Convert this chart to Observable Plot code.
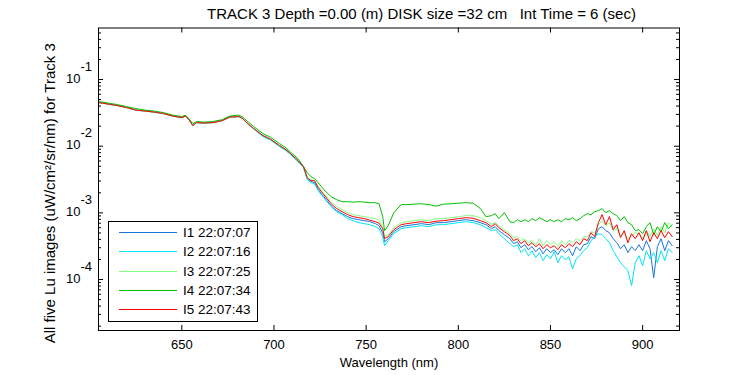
<!DOCTYPE html>
<html><head><meta charset="utf-8">
<script src="https://cdn.jsdelivr.net/npm/d3@7"></script>
<script src="https://cdn.jsdelivr.net/npm/@observablehq/plot@0.6"></script>
<style>
html,body{margin:0;padding:0;background:#fff;}
#wrap svg{display:block;}
</style></head><body><div id="wrap"></div>
<script>
// Wavelength (nm)
const wavelength = [
 605,610,615,620,625,630,635,640,645,650,
 652,654,656,658,662,667,672,676,681,683,
 686,689,694,698,703,706,709,713,716,718,
 720,722,724,727,731,734,737,740,743,746,
 749,752,755,757,759,760,762,765,769,772,
 776,780,784,788,792,796,800,804,808,812,
 815,818,820,822,825,828,830,832,834,836,
 838,840,842,844,846,848,850,852,854,856,
 858,860,862,864,866,868,870,872,874,876,
 878,880,882,884,886,888,890,892,894,896,
 898,900,902,904,906,908,910,912,914,916];

// Lu values in units of 1e-4 uW/cm²/sr/nm
const I1 = [
 451.6,428.7,407.0,379.8,348.3,336.5,325.1,308.7,283.1,268.8,
 283.1,246.6,203.9,226.1,222.3,226.1,242.3,273.5,278.3,259.7,
 214.7,183.8,144.3,127.8,102.1,90.5,77.4,60.8,49.4,33.8,
 29.4,28.4,22.3,17.5,12.8,10.8,9.73,8.77,8.18,7.90,
 7.64,7.38,6.89,6.43,5.04,3.69,4.10,5.22,6.21,6.43,
 6.65,6.89,6.65,7.13,7.13,7.38,7.64,7.90,7.64,7.13,
 6.65,5.79,6.21,5.41,4.71,4.10,3.45,3.69,3.00,3.33,
 2.80,3.11,2.61,3.00,2.44,2.90,2.53,2.80,2.36,2.90,
 2.53,2.90,2.28,3.11,2.71,3.33,3.45,4.40,4.10,5.79,
 6.21,5.41,5.04,4.10,3.57,2.90,3.33,2.53,3.11,2.71,
 3.33,2.71,3.83,2.90,1.06,3.11,4.10,2.71,3.83,3.22];
const I2 = [
 451.6,428.7,407.0,379.8,348.3,336.5,325.1,308.7,283.1,268.8,
 283.1,246.6,203.9,226.1,222.3,226.1,242.3,273.5,278.3,259.7,
 211.0,180.6,139.4,123.5,98.6,87.4,74.8,58.7,47.7,31.5,
 28.4,27.4,21.5,16.9,12.4,10.4,9.40,8.18,7.64,7.13,
 6.89,6.65,6.21,5.79,4.40,3.22,3.83,4.87,5.79,6.00,
 6.21,6.43,6.21,6.65,6.65,6.89,7.13,7.38,7.13,6.65,
 6.00,5.41,5.60,4.87,4.10,3.45,3.11,3.33,2.53,2.90,
 2.28,2.71,2.12,2.53,1.92,2.36,2.05,2.61,1.79,2.28,
 1.98,2.20,1.45,2.05,2.28,2.71,3.00,3.83,4.40,4.87,
 4.71,4.10,3.57,2.71,2.20,1.79,1.56,1.36,0.81,1.79,
 2.28,1.61,2.71,2.05,2.53,1.79,2.71,1.92,2.90,2.53];
const I3 = [
 451.6,428.7,407.0,379.8,348.3,336.5,325.1,308.7,283.1,268.8,
 283.1,246.6,203.9,226.1,222.3,226.1,242.3,273.5,278.3,259.7,
 214.7,183.8,144.3,127.8,102.1,90.5,77.4,60.8,49.4,33.8,
 31.5,30.4,24.7,19.4,14.7,12.4,11.2,10.07,9.40,9.08,
 8.77,8.47,8.18,7.64,6.21,4.40,4.71,6.00,7.13,7.38,
 7.64,7.90,7.64,8.18,8.18,8.47,8.77,9.08,9.08,8.47,
 7.64,6.65,7.13,6.43,5.60,4.87,4.25,4.40,3.83,4.10,
 3.57,3.83,3.33,4.10,3.22,3.83,3.33,3.69,3.11,3.83,
 3.33,3.83,3.57,4.10,3.83,4.40,4.40,5.22,5.04,6.65,
 7.64,6.43,7.13,5.41,5.79,4.55,5.04,4.10,4.55,5.04,
 4.87,4.10,5.41,4.40,5.79,4.55,6.21,5.04,7.13,6.21];
const I4 = [
 467.4,443.8,421.3,393.2,366.9,348.3,336.5,319.5,293.1,278.3,
 293.1,255.3,218.4,234.1,230.1,234.1,250.9,283.1,293.1,273.5,
 230.1,197.0,154.6,136.9,109.4,96.9,81.5,65.1,49.4,40.2,
 35.0,32.6,28.4,22.3,17.5,15.8,14.7,14.7,14.5,14.7,
 14.5,14.2,14.2,13.7,8.77,5.41,6.43,10.07,13.3,13.3,
 13.5,13.7,13.3,12.6,13.5,13.7,14.0,14.2,14.0,11.6,
 8.77,9.08,9.73,8.18,10.07,7.38,7.13,7.90,7.38,7.90,
 7.38,8.18,7.64,8.47,7.90,7.38,7.90,7.38,7.90,7.38,
 8.18,7.90,8.47,7.64,8.18,9.08,9.73,9.40,10.4,10.8,
 11.6,10.07,10.8,9.73,9.08,7.64,8.77,7.13,6.65,5.41,
 5.60,4.87,6.21,7.13,4.71,6.21,5.22,7.13,5.79,6.65];
const I5 = [
 451.6,428.7,407.0,379.8,348.3,336.5,325.1,308.7,283.1,268.8,
 283.1,246.6,203.9,226.1,222.3,226.1,242.3,273.5,278.3,259.7,
 214.7,183.8,144.3,127.8,102.1,90.5,77.4,60.8,49.4,33.8,
 30.4,30.4,23.9,18.8,13.7,11.6,10.4,9.40,8.77,8.47,
 8.18,7.77,7.38,7.00,5.79,4.10,4.40,5.60,6.65,6.89,
 7.13,7.38,7.13,7.51,7.64,7.90,8.18,8.47,8.32,7.64,
 7.13,6.21,6.89,6.00,5.22,4.55,3.83,4.10,3.45,3.83,
 3.22,3.57,3.11,3.45,2.90,3.33,3.00,3.22,2.80,3.33,
 3.00,3.45,3.11,3.69,3.33,4.10,3.83,5.04,4.40,7.13,
 9.40,6.65,8.77,5.60,6.65,4.25,5.41,3.57,4.87,4.10,
 5.04,3.83,5.41,3.69,5.04,4.10,5.41,4.25,5.22,4.40];

const seriesNames = ["I1 22:07:07","I2 22:07:16","I3 22:07:25","I4 22:07:34","I5 22:07:43"];
const seriesColors = ["#1a75e0","#00e5f2","#80ff80","#00c000","#ff0000"];
const xTicks = [650,700,750,800,850,900];
const yMajor = [1e-4,1e-3,1e-2,1e-1];
const yExponents = ["-4","-3","-2","-1"];
const yDecades = [1e-5,1e-4,1e-3,1e-2,1e-1];
const titleText = "TRACK 3 Depth =0.00 (m) DISK size =32 cm\u00a0\u00a0\u00a0Int Time = 6 (sec)";
const xLabel = "Wavelength (nm)";
const yLabel = "All five Lu images (uW/cm\u00b2/sr/nm) for Track 3";

const UNIT = 1e-4;
const xDomain = [604.8, 920];
const yDomain = [1.72e-5, 0.593];
const mL = 98, mR = 71, mT = 27.5, mB = 45, W = 750, H = 375;
const plotW = W - mL - mR, plotH = H - mT - mB;

const series = [I1,I2,I3,I4,I5].map((arr,k)=>({
  name: seriesNames[k], color: seriesColors[k],
  rows: arr.map((v,i)=>({wl: wavelength[i], lu: v*UNIT}))
}));

const yMinor = yDecades.flatMap(d => [2,3,4,5,6,7,8,9].map(m => m*d))
  .filter(v => v > yDomain[0] && v < yDomain[1]);

const font = "Liberation Sans, Arial, sans-serif";

const chart = Plot.plot({
  width: W, height: H,
  marginLeft: mL, marginRight: mR, marginTop: mT, marginBottom: mB,
  style: {fontFamily: font, background: "#fff", color: "#000"},
  x: {domain: xDomain, axis: null},
  y: {type: "log", domain: yDomain, axis: null},
  marks: [
    ...series.map(s => Plot.line(s.rows, {x: "wl", y: "lu", stroke: s.color, strokeWidth: 1, clip: true})),
    Plot.frame({stroke: "#000", strokeWidth: 1}),
    Plot.tickY(yMajor, {y: d => d, insetRight: plotW - 5, stroke: "#000"}),
    Plot.tickY(yMajor, {y: d => d, insetLeft: plotW - 5, stroke: "#000"}),
    Plot.tickY(yMinor, {y: d => d, insetRight: plotW - 3, stroke: "#000"}),
    Plot.tickY(yMinor, {y: d => d, insetLeft: plotW - 3, stroke: "#000"}),
    Plot.tickX(xTicks, {x: d => d, insetTop: plotH - 5, stroke: "#000"}),
    Plot.tickX(xTicks, {x: d => d, insetBottom: plotH - 5, stroke: "#000"}),
    Plot.text(xTicks, {x: d => d, text: d => String(d), frameAnchor: "bottom", dy: 14, lineAnchor: "middle", fontSize: 13, fill: "#000"}),
    Plot.text(yMajor, {y: d => d, text: () => "10", frameAnchor: "left", dx: -18, dy: -1, textAnchor: "end", lineAnchor: "middle", fontSize: 13, fill: "#000"}),
    Plot.text(yMajor, {y: d => d, text: (d, i) => yExponents[i], frameAnchor: "left", dx: -18, dy: -13, textAnchor: "start", lineAnchor: "middle", fontSize: 13, fill: "#000"}),
    Plot.text([titleText], {frameAnchor: "top-left", dx: 323, dy: -14, textAnchor: "middle", lineAnchor: "middle", fontSize: 15, fill: "#000"}),
    Plot.text([xLabel], {frameAnchor: "bottom", dy: 32, lineAnchor: "middle", fontSize: 13, fill: "#000"}),
    Plot.text([yLabel], {frameAnchor: "left", dx: -48, dy: 14, rotate: -90, textAnchor: "middle", lineAnchor: "middle", fontSize: 15, fill: "#000"})
  ]
});

document.getElementById("wrap").appendChild(chart);

// Legend box drawn into the chart's SVG
const svg = d3.select(chart);
const lg = svg.append("g").attr("font-family", font).attr("font-size", 13.5).attr("text-anchor", "start");
lg.append("rect").attr("x", 108.5).attr("y", 221.5).attr("width", 149).attr("height", 100)
  .attr("fill", "#fff").attr("stroke", "#000").attr("stroke-width", 1);
const rowY = [232, 251, 271, 290, 309];
series.forEach((s, k) => {
  lg.append("line").attr("x1", 119).attr("x2", 177)
    .attr("y1", rowY[k] + 0.5).attr("y2", rowY[k] + 0.5)
    .attr("stroke", s.color).attr("stroke-width", 1);
  lg.append("text").attr("x", 183).attr("y", rowY[k]).attr("dy", "0.35em")
    .attr("text-anchor", "start").attr("fill", "#000").text(s.name);
});
</script>
</body></html>
